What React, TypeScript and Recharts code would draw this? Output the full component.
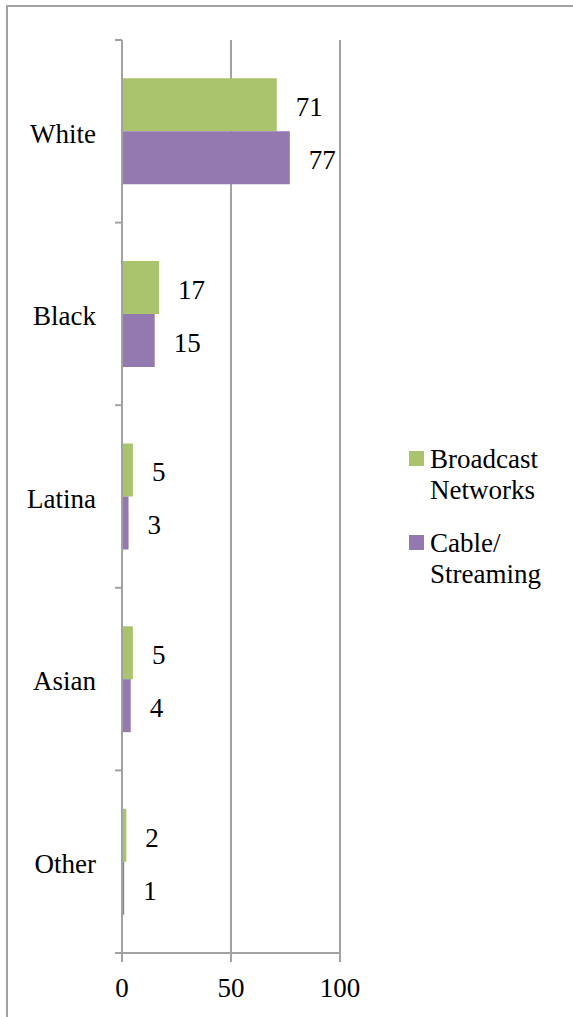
import React from "react";
import {
  Bar,
  BarChart,
  CartesianGrid,
  LabelList,
  Legend,
  XAxis,
  YAxis,
} from "recharts";

const categories = ["White", "Black", "Latina", "Asian", "Other"];
const broadcast = [71, 17, 5, 5, 2];
const cable = [77, 15, 3, 4, 1];
const xTicks = [0, 50, 100];
const seriesNames = ["Broadcast\nNetworks", "Cable/\nStreaming"];

const data = categories.map((name, i) => ({
  name,
  broadcast: broadcast[i],
  cable: cable[i],
}));

const FONT = "'Liberation Serif', serif";
const GRAY = "#a2a2a2";
const GREEN = "#aac46d";
const PURPLE = "#9479b1";
const LABEL_GAP = 26;

// category labels plus Excel-style tick marks on the band boundaries
function CategoryTick(props: any) {
  const { x, y, payload, index, visibleTicksCount } = props;
  const half = payload.offset ?? 0;
  const axisX = x + LABEL_GAP;
  return (
    <g>
      <line x1={axisX - 7} x2={axisX} y1={y - half} y2={y - half} stroke={GRAY} strokeWidth={2} />
      {index === visibleTicksCount - 1 && (
        <line x1={axisX - 7} x2={axisX} y1={y + half} y2={y + half} stroke={GRAY} strokeWidth={2} />
      )}
      <text x={x} y={y} dy="0.42em" textAnchor="end" fill="#000" fontSize={27} fontFamily={FONT}>
        {payload.value}
      </text>
    </g>
  );
}

// value label to the right of each bar
function ValueLabel(props: any) {
  const { x, y, width, height, value } = props;
  return (
    <text
      x={x + width + 19}
      y={y + height / 2}
      dy="0.42em"
      fill="#000"
      fontSize={27}
      fontFamily={FONT}
    >
      {value}
    </text>
  );
}

function LegendBox(props: any) {
  const { payload } = props;
  return (
    <div style={{ fontFamily: FONT, fontSize: 27, lineHeight: "31px", color: "#000" }}>
      {(payload || []).map((entry: any, i: number) => (
        <div
          key={i}
          style={{ display: "flex", alignItems: "flex-start", marginTop: i === 0 ? 0 : 22 }}
        >
          <div
            style={{
              width: 15,
              height: 15,
              marginTop: 7,
              background: entry.color,
              flex: "none",
            }}
          />
          <div style={{ marginLeft: 6, whiteSpace: "pre-line" }}>{entry.value}</div>
        </div>
      ))}
    </div>
  );
}

export default function App() {
  return (
    <div
      style={{
        position: "absolute",
        left: 0,
        top: 0,
        width: 573,
        height: 1017,
        overflow: "hidden",
        background: "#fff",
      }}
    >
      <div style={{ position: "absolute", left: 0, top: 0 }}>
        <BarChart
          width={573}
          height={1017}
          data={data}
          layout="vertical"
          margin={{ top: 40, right: 233, bottom: 0, left: 0 }}
          barCategoryGap="21%"
          barGap={0}
        >
          <CartesianGrid horizontal={false} stroke={GRAY} strokeWidth={2} />
          <XAxis
            type="number"
            domain={[0, 100]}
            ticks={xTicks}
            height={64}
            tickSize={9}
            tickMargin={16}
            axisLine={{ stroke: GRAY, strokeWidth: 2 }}
            tickLine={{ stroke: GRAY, strokeWidth: 2 }}
            tick={{ fill: "#000", fontSize: 27, fontFamily: FONT }}
          />
          <YAxis
            type="category"
            dataKey="name"
            width={122}
            tickSize={0}
            tickMargin={LABEL_GAP}
            axisLine={{ stroke: GRAY, strokeWidth: 2 }}
            tickLine={false}
            tick={<CategoryTick />}
          />
          <Legend
            layout="vertical"
            align="center"
            verticalAlign="middle"
            content={<LegendBox />}
            wrapperStyle={{ left: 409, top: 444, width: 164 }}
          />
          <Bar dataKey="broadcast" name={seriesNames[0]} fill={GREEN} isAnimationActive={false}>
            <LabelList dataKey="broadcast" content={<ValueLabel />} />
          </Bar>
          <Bar dataKey="cable" name={seriesNames[1]} fill={PURPLE} isAnimationActive={false}>
            <LabelList dataKey="cable" content={<ValueLabel />} />
          </Bar>
        </BarChart>
      </div>
      <div
        style={{
          position: "absolute",
          left: 6,
          top: 5,
          width: 700,
          height: 1200,
          borderTop: `2px solid ${GRAY}`,
          borderLeft: `2px solid ${GRAY}`,
          pointerEvents: "none",
        }}
      />
    </div>
  );
}
